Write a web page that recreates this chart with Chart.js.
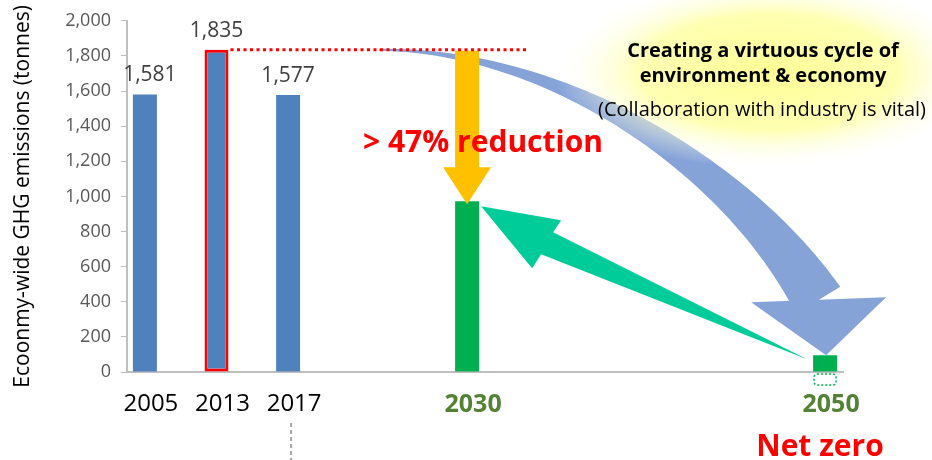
<!DOCTYPE html>
<html>
<head>
<meta charset="utf-8">
<script src="https://cdn.jsdelivr.net/npm/chart.js@4"></script>
<style>
  html, body { margin: 0; padding: 0; background: #fff; }
  #wrap { width: 932px; height: 460px; }
</style>
</head>
<body>
<div id="wrap"><canvas id="chart" width="932" height="460"></canvas></div>
<script>
const years = ['2005', '2013', '2017', '2030', '2050']
const emissions = [1581, 1835, 1577, 973, 95]
const isTarget = [false, false, false, true, true]
const showValue = [true, true, true, false, false]
const yMax = 2000
const yStep = 200

// the years sit on a 20-slot category axis so the gaps match the slide
const slotOf = [0, 2, 4, 9, 19]
const slotCount = 20

const BLUE = '#4F81BD'
const GREEN = '#00B050'
const AXIS = '#BFBFBF'

const labels = []
const values = []
const fills = []
const borders = []
const borderWidths = []
for (let i = 0; i < slotCount; i++) {
  labels.push('')
  values.push(null)
  fills.push(BLUE)
  borders.push(BLUE)
  borderWidths.push(0)
}
years.forEach(function(y, i) {
  const s = slotOf[i]
  labels[s] = y
  values[s] = emissions[i]
  fills[s] = isTarget[i] ? GREEN : BLUE
  // 2013 is the peak year, outlined in red
  if (i === 1) { borders[s] = '#FF0000'; borderWidths[s] = 3 }
})

function bez(p0, p1, p2, p3, t) {
  const u = 1 - t
  return {
    x: u*u*u*p0.x + 3*u*u*t*p1.x + 3*u*t*t*p2.x + t*t*t*p3.x,
    y: u*u*u*p0.y + 3*u*u*t*p1.y + 3*u*t*t*p2.y + t*t*t*p3.y
  }
}
function bezD(p0, p1, p2, p3, t) {
  const u = 1 - t
  return {
    x: 3*u*u*(p1.x-p0.x) + 6*u*t*(p2.x-p1.x) + 3*t*t*(p3.x-p2.x),
    y: 3*u*u*(p1.y-p0.y) + 6*u*t*(p2.y-p1.y) + 3*t*t*(p3.y-p2.y)
  }
}

function poly(ctx, pts, color) {
  ctx.beginPath()
  ctx.moveTo(pts[0][0], pts[0][1])
  for (let i = 1; i < pts.length; i++) ctx.lineTo(pts[i][0], pts[i][1])
  ctx.closePath()
  ctx.fillStyle = color
  ctx.fill()
}

const decor = {
  id: 'decor',
  afterDatasetsDraw(chart) {
    const ctx = chart.ctx
    const xs = chart.scales.x
    const ys = chart.scales.y
    const px = i => xs.getPixelForValue(slotOf[i])
    const py = v => ys.getPixelForValue(v)
    const font = "'Open Sans', sans-serif"

    ctx.save()

    // value labels over the historic bars
    ctx.fillStyle = '#404040'
    ctx.font = '21px ' + font
    ctx.textAlign = 'center'
    ctx.textBaseline = 'alphabetic'
    emissions.forEach(function(v, i) {
      if (showValue[i]) ctx.fillText(v.toLocaleString('en-US'), px(i) + (i === 0 ? 5 : 0), py(v) - 13)
    })

    // big curved blue arrow: peak -> net zero
    const peakY = py(emissions[1])
    const tip = { x: px(4) + 1, y: py(emissions[4]) }
    const p0 = { x: px(3) - 88, y: peakY }
    const p1 = { x: px(3) + 92, y: peakY }
    const p3 = { x: tip.x - 8, y: tip.y - 55 }
    const p2 = { x: p3.x - 79, y: p3.y - 130 }
    const left = [], right = []
    const n = 60
    for (let k = 0; k <= n; k++) {
      const t = k / n
      const p = bez(p0, p1, p2, p3, t)
      const d = bezD(p0, p1, p2, p3, t)
      const len = Math.hypot(d.x, d.y) || 1
      const nx = -d.y / len, ny = d.x / len
      const w = (2 + 50 * Math.pow(t, 1.4)) / 2
      left.push([p.x + nx * w, p.y + ny * w])
      right.push([p.x - nx * w, p.y - ny * w])
    }
    poly(ctx, left.concat(right.reverse()), '#86A3D8')
    poly(ctx, [[tip.x - 75, tip.y - 53], [tip.x + 60, tip.y - 58], [tip.x, tip.y]], '#86A3D8')

    // yellow glow behind the message
    ctx.save()
    ctx.translate(770, 72)
    ctx.scale(1, 0.45)
    const g = ctx.createRadialGradient(0, 0, 0, 0, 0, 215)
    g.addColorStop(0, 'rgba(255,255,150,1)')
    g.addColorStop(0.6, 'rgba(255,255,165,0.85)')
    g.addColorStop(1, 'rgba(255,255,255,0)')
    ctx.fillStyle = g
    ctx.beginPath()
    ctx.arc(0, 0, 215, 0, Math.PI * 2)
    ctx.fill()
    ctx.restore()

    // orange arrow: peak down to 2030 target
    const cx = px(3)
    const topY = peakY + 1
    const tipY = py(emissions[3]) + 3
    const headY = tipY - 37
    poly(ctx, [[cx - 12, topY], [cx + 12, topY], [cx + 12, headY], [cx + 24, headY],
               [cx, tipY], [cx - 24, headY], [cx - 12, headY]], '#FFC000')

    // teal arrow from net zero back to 2030
    const gt = { x: px(3) + 14, y: py(emissions[3]) + 5 }
    poly(ctx, [[gt.x, gt.y], [gt.x + 80, gt.y + 14], [gt.x + 72, gt.y + 26], [gt.x + 326, gt.y + 153],
               [gt.x + 60, gt.y + 48], [gt.x + 51, gt.y + 62]], '#00CC99')

    // red dotted peak line
    ctx.strokeStyle = '#FF0000'
    ctx.lineWidth = 3
    ctx.setLineDash([3, 3.5])
    ctx.beginPath()
    ctx.moveTo(px(1) + 14, peakY)
    ctx.lineTo(px(3) + 61, peakY)
    ctx.stroke()

    // dotted outline under the 2050 bar
    ctx.strokeStyle = GREEN
    ctx.lineWidth = 1.5
    ctx.setLineDash([2, 2])
    ctx.beginPath()
    ctx.roundRect(px(4) - 11, ys.bottom + 2, 22, 11, 3)
    ctx.stroke()

    // dashed marker under 2017
    ctx.strokeStyle = '#A6A6A6'
    ctx.lineWidth = 2
    ctx.setLineDash([4, 3])
    ctx.beginPath()
    ctx.moveTo(px(2) + 3, 423)
    ctx.lineTo(px(2) + 3, 460)
    ctx.stroke()
    ctx.setLineDash([])

    // texts
    ctx.fillStyle = '#FF0000'
    ctx.font = 'bold 30px ' + font
    ctx.textAlign = 'left'
    ctx.fillText('> 47% reduction', 363, 152)
    ctx.textAlign = 'center'
    ctx.fillText('Net zero', 820, 456)

    ctx.fillStyle = '#000'
    ctx.font = 'bold 20px ' + font
    ctx.fillText('Creating a virtuous cycle of', 763, 57)
    ctx.fillText('environment & economy', 763, 82)
    ctx.font = '20px ' + font
    ctx.fillText('(Collaboration with industry is vital)', 762, 116)

    ctx.restore()
  }
}

Chart.defaults.font.family = "'Open Sans', sans-serif"

new Chart(document.getElementById('chart'), {
  type: 'bar',
  data: {
    labels: labels,
    datasets: [{
      data: values,
      backgroundColor: fills,
      borderColor: borders,
      borderWidth: borderWidths,
      borderSkipped: false,
      barPercentage: 0.67,
      categoryPercentage: 1
    }]
  },
  options: {
    responsive: false,
    animation: false,
    layout: { padding: { left: 0, right: 89, top: 18, bottom: 0 } },
    plugins: { legend: { display: false }, tooltip: { enabled: false } },
    scales: {
      x: {
        grid: { display: false, drawTicks: false },
        border: { display: true, color: AXIS, width: 2 },
        ticks: {
          autoSkip: false,
          maxRotation: 0,
          minRotation: 0,
          padding: 18,
          labelOffset: 6,
          color: ctx => (ctx.index === slotOf[3] || ctx.index === slotOf[4]) ? '#548235' : '#000',
          font: ctx => (ctx.index === slotOf[3] || ctx.index === slotOf[4])
            ? { size: 25, weight: 'bold' } : { size: 24 }
        },
        afterFit: axis => { axis.height = 88 }
      },
      y: {
        min: 0,
        max: yMax,
        grid: { display: true, drawOnChartArea: false, drawTicks: true, tickLength: 6, color: AXIS },
        border: { display: true, color: AXIS, width: 2 },
        ticks: {
          stepSize: yStep,
          padding: 10,
          color: '#595959',
          font: { size: 18 },
          callback: v => v.toLocaleString('en-US')
        },
        title: {
          display: true,
          text: 'Ecoonmy-wide GHG emissions (tonnes)',
          color: '#000',
          font: { size: 21 },
          padding: { top: 10, bottom: 0 }
        },
        afterFit: axis => { axis.width = 127 }
      }
    }
  },
  plugins: [decor]
})
</script>
</body>
</html>
